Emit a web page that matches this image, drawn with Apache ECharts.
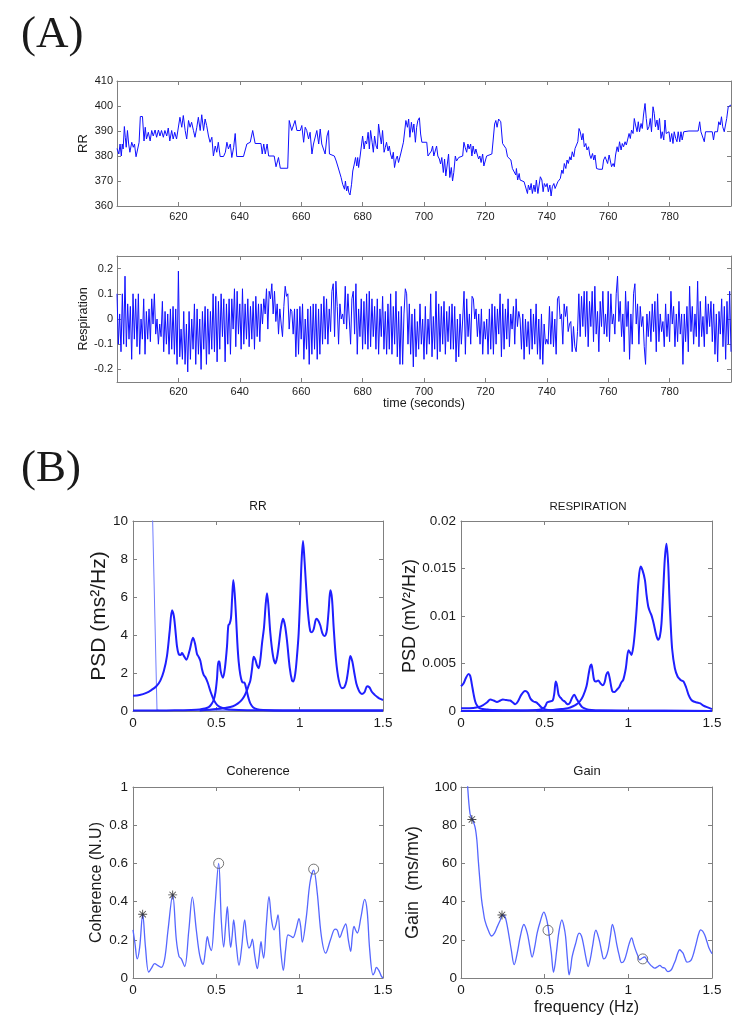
<!DOCTYPE html>
<html><head><meta charset="utf-8">
<script src="https://cdn.jsdelivr.net/npm/echarts@6/dist/echarts.min.js"></script>
<style>html,body{margin:0;padding:0;background:#fff}#c{width:750px;height:1033px}</style>
</head><body><div id="c"></div>
<script>
// ---------------- DATA ----------------
// (A) RR interval series: [time s, RR ms]
const rrSamples = [[600.0,383],[600.2,383.5],[600.6,380.8],[601.0,384.8],[601.4,380],[601.7,384.8],[602.0,382.8],[602.4,391.8],[602.7,387.5],[603.0,383.5],[603.4,390.2],[603.8,384.8],[604.2,381.5],[604.8,385.5],[605.3,383.5],[605.7,384.8],[606.2,379.7],[606.6,382],[607.2,385.5],[607.6,395.8],[608.3,395.8],[608.8,386],[609.2,391.5],[609.6,386.8],[610.2,389.5],[610.8,386],[611.3,390.2],[611.8,388],[612.4,390.4],[612.9,387.5],[613.5,390.4],[614.0,388],[614.5,390.2],[615.1,387.5],[615.6,390.2],[616.2,388],[616.7,391.2],[617.2,386],[617.8,390.2],[618.3,386.8],[618.8,389.5],[619.4,386.8],[620.0,386],[620.5,395.5],[621.1,391.5],[621.6,396.2],[622.2,390.2],[622.7,386.8],[623.3,394.2],[623.8,391.5],[624.3,393.5],[624.9,390.2],[625.4,387.5],[626.0,391.5],[626.5,395.5],[627.1,390.2],[627.6,396.5],[628.2,390.2],[628.7,394.8],[629.2,392.2],[629.8,388],[630.3,385.5],[630.9,387.5],[631.4,380],[632.0,384],[632.5,381.5],[633.0,385.5],[633.6,379.8],[634.7,379.8],[635.3,381.5],[635.8,385.5],[636.3,382.8],[636.9,384.8],[637.4,379.4],[638.0,383.5],[638.5,389],[639.0,379.8],[641.2,379.8],[642.3,384.8],[643.4,385.5],[644.2,390.2],[645.0,385],[646.9,385],[647.3,380.8],[647.8,384.8],[648.3,380.8],[648.9,384.8],[649.4,380],[651.2,380],[651.8,375.7],[652.6,379.4],[653.2,375.1],[655.6,375.1],[656.1,394.2],[656.9,390.2],[657.5,390.2],[658.0,394.2],[658.6,390.2],[659.7,390.2],[660.2,392.2],[660.8,385.5],[661.3,391.5],[661.8,390.2],[662.4,386.8],[662.9,389.5],[663.5,380.8],[664.0,384.8],[664.6,384.8],[665.1,390.2],[665.7,384.8],[666.2,390.8],[666.7,384.8],[667.3,384.8],[667.8,380.8],[668.4,388],[668.9,390.2],[669.2,380.8],
[669.7,380],[670.8,380],[671.4,378],[671.9,376],[672.5,375.7],[673.0,371.4],[673.5,368.7],[674.1,366.7],[674.4,370],[674.8,366],[675.2,368],[675.5,365.4],[675.9,364.4],[676.4,368.7],[676.8,374],[677.3,376.8],[677.7,379.4],[678.1,376],[678.4,379.4],[678.7,375.4],[679.2,380],[679.6,380.8],[680.0,388],[680.5,382.8],[680.9,386],[681.3,384.8],[681.8,389.5],[682.2,382.8],[682.6,390.2],[683.1,385.5],[683.5,381.5],[683.9,388],[684.4,384],[684.8,382.8],[685.2,392.8],[685.7,388],[686.1,384.8],[686.5,390.2],[687.0,381.5],[687.4,383.5],[687.8,385.5],[688.3,382],[688.7,384],[689.1,380.8],[689.6,378.8],[690.0,381.5],[690.4,375.4],[690.9,378.8],[691.3,380],[691.7,377.4],[692.4,380.8],[692.8,380.8],[693.3,385.5],[693.7,384.8],[694.1,394.2],[694.6,391.5],[695.0,394.8],[695.4,387.5],[695.9,393.5],[696.3,389.5],[696.7,392.8],[697.2,385.5],[697.6,391.5],[698.0,394.2],[698.5,395.3],[698.9,388.8],[699.3,385.5],[700.9,385.5],[701.3,380],[701.9,380],[702.4,382],[702.8,384],[703.2,380],[703.7,380.8],[704.1,384],[704.5,380],[705.0,378.8],[705.4,376.8],[705.8,379.4],[706.3,373.4],[706.7,378.8],[707.1,372],[707.6,376.8],[708.0,380.8],[708.4,371.4],[708.9,375.4],[709.3,370],[709.7,373.4],[710.2,380],[710.6,378],[711.3,379.4],[711.9,379.7],[712.6,380],[713.0,385.5],[713.4,383.5],[713.9,381.5],[714.3,384.8],[714.7,382.8],[715.2,384.8],[715.6,380],[716.0,384],[716.5,380.8],[716.9,382.8],[717.3,380.8],[717.8,378.8],[718.2,380],[718.6,377.4],[719.1,380.8],[719.5,376],[719.9,375.4],[720.4,380],[722.1,380.8],[722.5,386],[723.0,392.8],[723.4,394.2],[723.8,391.5],[724.3,394.8],
[725.0,393.7],[725.4,394.4],[725.6,385],[726.1,384.4],[726.7,383],[727.2,379.7],[727.8,379.7],[728.3,378.4],[728.8,375],[729.4,374.4],[729.9,372.4],[730.1,375],[730.5,370.4],[731.0,373],[731.3,370.4],[731.9,369.7],[732.6,369.7],[733.2,369],[733.7,365],[734.0,368.4],[734.5,366.4],[734.9,369],[735.3,365],[735.8,368.4],[736.2,365.7],[736.6,370.4],[737.1,365],[737.5,368.4],[737.9,371.7],[738.4,370.4],[738.8,365.7],[739.2,369],[739.7,367.7],[740.1,369],[740.5,365.7],[741.0,368.4],[741.4,364],[741.8,367.7],[742.3,369],[742.7,367],[743.1,366.4],[743.6,369.7],[744.0,370.4],[744.4,371],[744.9,374.4],[745.3,373],[745.7,377],[746.2,375],[746.6,378.4],[747.0,377],[747.5,379.7],[747.9,378.4],[748.3,381.7],[748.8,379.7],[749.2,383],[749.6,382.4],[750.1,385.7],[750.5,391],[750.9,389.7],[751.4,386.4],[751.8,389],[752.2,383.7],[752.7,385],[753.1,382.4],[753.6,383.7],[754.0,380.4],[754.4,379],[754.9,381],[755.3,378.4],[755.7,380.4],[756.2,375],[757.0,374.7],[758.1,374.7],[758.5,378.4],[759.0,379.7],[759.4,379],[759.8,377],[760.3,380.4],[760.7,379.7],[761.1,375.7],[761.6,377],[762.0,375.7],[762.4,380.4],[762.9,383.7],[763.3,381.7],[763.7,385.7],[764.2,382.4],[764.6,385],[765.0,383.7],[765.5,385.7],[765.9,384.4],[766.3,386.4],[766.8,389],[767.2,387],[767.6,390.4],[768.1,389],[768.5,395],[768.9,392.4],[769.4,389.7],[769.8,393.7],[770.2,389.7],[770.7,393],[771.1,391],[771.5,396.4],[772.0,401],[772.4,395],[772.8,390.4],[773.3,391.7],[773.7,395],[774.1,389.7],[774.6,399.7],[775.0,397],[775.4,391.7],[775.9,394.4],[776.3,390.4],[776.7,395],[777.2,387],[777.6,389.7],[778.1,386.4],[778.5,394.4],[778.9,389],[779.4,388.4],[779.8,389.7],[780.2,385.7],[780.7,389],[781.1,385],[781.5,389.7],[782.0,387],[782.4,385.7],[782.8,389.7],[783.3,385.7],[783.7,389.7],[784.1,386.4],[784.6,389.7],[785.2,389.7],[786.3,390],[789.3,390],[789.8,393.7],[790.2,389.7],[790.8,389.7],[791.3,385.7],[791.7,389.7],[793.9,389.7],[794.3,386.4],[794.7,389.7],[795.6,389.7],[796.0,393.7],[796.5,392.4],[796.9,395.7],[797.3,391.7],[797.8,389.7],[798.2,390.4],[798.6,395],[799.1,399.7],[799.3,399.7],[800,400.4]];

// (A) Respiration, uniformly sampled from respStart to respEnd (alternating peaks / troughs)
const respStart = 600, respEnd = 800;
const respValue = [0.1,-0.1,0.02,-0.13,0.1,-0.1,0.17,-0.11,
0.06,-0.08,0.05,-0.16,0.1,-0.08,0.08,-0.11,
0.1,-0.14,0,-0.08,0.08,-0.14,0.03,-0.08,0.04,-0.09,
0.08,-0.02,0.1,-0.06,0,-0.1,-0.02,-0.07,0.07,-0.13,
0.03,-0.1,0.02,-0.14,0.04,-0.12,0.05,-0.14,0.04,-0.18,
0.19,-0.15,-0.04,-0.16,0.03,-0.18,-0.02,-0.21,0.03,-0.16,
0,-0.12,0.06,-0.18,0.04,-0.14,0,-0.2,0.03,-0.12,
0.05,-0.18,0.04,-0.14,0.03,-0.12,0.1,-0.13,0.09,-0.17,
0.07,-0.12,0.1,-0.07,0.08,-0.17,0.06,-0.1,0.08,-0.14,
0.08,-0.04,0.12,-0.11,0.11,-0.06,0.06,-0.12,0.12,-0.1,
0.06,-0.08,0.08,-0.11,0.05,-0.08,0.07,-0.12,0.09,-0.07,
0.06,-0.09,0.06,-0.02,0.08,0.02,0.12,-0.04,0.11,0.08,
0.14,0.02,0.11,-0.01,0.06,-0.06,0.04,-0.02,-0.07,0.05,
0.13,0.09,0.1,-0.04,0.04,0.03,-0.06,0.04,-0.15,0.04,
-0.14,0.05,-0.08,0.06,-0.16,0,-0.12,0.04,-0.18,0.05,
-0.14,0.06,-0.12,0.06,-0.16,0.04,-0.14,0.06,-0.1,0.09,
-0.08,0.08,-0.1,0.04,-0.05,0.11,0.14,-0.07,0.15,0.05,-0.1,
0.06,0,0.02,-0.02,0.13,-0.04,0.1,0,-0.1,0.08,
0.11,-0.06,0.14,-0.14,0.04,-0.07,0.08,-0.12,0.07,-0.1,
0.1,-0.12,0.11,-0.11,0.08,-0.07,0.05,-0.12,0.08,-0.14,
0.04,-0.07,0.09,-0.12,0.03,-0.14,0.06,-0.12,0.1,-0.14,
0.05,-0.1,0.11,-0.15,0.03,-0.18,0.05,-0.18,0.02,0.12,
0.1,-0.1,0.06,-0.14,0.02,-0.19,0.04,-0.15,-0.01,-0.12,
0.06,-0.1,0,-0.16,0.05,-0.14,0,-0.1,0.1,-0.15,
0.01,-0.12,0.11,-0.16,0.06,-0.13,0.05,-0.1,0.07,-0.14,
0.03,-0.09,0.05,-0.12,0.06,-0.12,0.05,-0.17,0,-0.15,
0.02,-0.1,0,0.11,-0.14,0.08,-0.07,0.02,-0.1,0.09,
0.08,0,0.04,-0.07,0.02,-0.1,0.04,-0.14,-0.01,-0.08,
0,-0.14,0.04,-0.12,0.06,-0.14,0.05,-0.1,0.04,-0.06,
0.1,-0.15,0.06,-0.12,0.04,-0.08,0.08,-0.11,0.02,-0.04,
0.05,-0.1,0.08,-0.03,0.03,0,-0.12,0.02,-0.16,0,
-0.11,-0.01,-0.14,0.04,-0.12,0.02,-0.1,0.06,-0.14,0,
-0.16,0.02,-0.18,-0.02,-0.1,-0.08,-0.1,0.05,-0.1,0.03,
-0.11,0,-0.14,0.08,0.09,0,0.02,-0.1,0.06,0.01,
0.05,-0.05,-0.02,
-0.01,-0.13,-0.03,-0.11,-0.13,-0.05,0.1,-0.07,0.09,-0.03,
0.11,-0.07,0.11,-0.11,0.07,-0.03,0.11,-0.09,0.13,-0.06,
0.03,-0.13,0.07,-0.03,0.11,-0.06,0.02,-0.07,0.11,-0.09,
0.1,-0.02,0.02,-0.06,0.1,0.17,-0.01,0.07,-0.07,0.02,
-0.13,0.11,-0.03,0.07,-0.16,0.02,-0.1,0.1,0.14,-0.02,
0.06,-0.1,0.05,-0.03,0.01,-0.11,-0.18,0.02,-0.07,0.03,
-0.09,0.06,-0.05,0.07,-0.13,0.1,-0.09,0.02,-0.05,-0.01,
-0.11,0.06,-0.07,0.02,-0.09,0.11,-0.02,0.05,-0.11,0.02,
-0.09,0.07,-0.06,0.02,-0.18,0.02,-0.09,0.05,-0.13,0.13,
-0.05,0.05,-0.1,0.02,-0.07,0.15,-0.11,0.07,-0.07,0.01,
-0.11,0.09,-0.06,0.06,-0.03,0.07,-0.09,0.06,-0.14,0.02,
-0.17,0.03,-0.06,0.08,-0.11,0.05,-0.16,0.07,-0.1,0.11,-0.13];

// (A) axis ticks
const rrTicks = [360, 370, 380, 390, 400, 410];
const respTicks = [-0.2, -0.1, 0, 0.1, 0.2];

// (B) RR PSD components: [frequency Hz, PSD ms^2/Hz]
const rrPsdVlf = [[0.108,12.5],[0.118,10],[0.144,0.05],[0.16,0.03],[0.5,0.02],[1.5,0.01]];
const rrPsdLf = [[0,0.8],[0.04,0.84],[0.08,0.95],[0.11,1.1],[0.14,1.3],[0.164,1.6],[0.185,2.1],[0.204,2.9],[0.22,4.2],[0.234,5.3],[0.245,5.0],[0.254,4.3],[0.264,3.4],[0.274,3.0],[0.285,2.95],[0.294,3.05],[0.305,2.9],[0.32,2.7],[0.34,3.2],[0.36,3.85],[0.372,3.55],[0.384,3.0],[0.394,2.85],[0.404,2.65],[0.414,2.2],[0.424,1.9],[0.436,1.75],[0.448,1.5],[0.466,1.0],[0.484,0.6],[0.504,0.32],[0.524,0.2],[0.55,0.12],[0.6,0.06],[0.7,0.04],[0.9,0.03],[1.2,0.02],[1.5,0.02]];
const rrPsdMid = [[0,0.02],[0.2,0.03],[0.3,0.04],[0.35,0.05],[0.4,0.08],[0.43,0.13],[0.454,0.2],[0.47,0.35],[0.484,0.58],[0.495,1.0],[0.504,1.7],[0.512,2.6],[0.518,2.6],[0.526,2.1],[0.54,1.75],[0.552,2.3],[0.564,3.4],[0.572,4.5],[0.58,4.6],[0.588,4.9],[0.595,6.0],[0.602,6.9],[0.61,6.2],[0.618,5.0],[0.626,3.6],[0.634,2.6],[0.644,1.9],[0.654,1.55],[0.662,1.5],[0.668,1.5],[0.676,1.3],[0.684,1.0],[0.694,0.65],[0.704,0.4],[0.72,0.2],[0.744,0.1],[0.78,0.05],[0.85,0.03],[1.0,0.02],[1.5,0.02]];
const rrPsdHf = [[0.4,0.02],[0.5,0.1],[0.55,0.16],[0.6,0.25],[0.63,0.4],[0.654,0.6],[0.67,0.82],[0.684,1.1],[0.694,1.35],[0.704,1.6],[0.714,2.2],[0.724,2.85],[0.734,2.7],[0.744,2.4],[0.754,2.25],[0.764,2.7],[0.774,3.55],[0.786,4.4],[0.796,5.6],[0.804,6.2],[0.812,5.6],[0.824,4.1],[0.84,2.9],[0.854,2.5],[0.864,2.8],[0.874,3.4],[0.888,4.4],[0.9,4.85],[0.912,4.5],[0.924,3.7],[0.94,2.3],[0.954,1.6],[0.962,1.55],[0.974,2.0],[0.984,2.9],[0.994,4.1],[1.004,6.2],[1.012,8.0],[1.02,8.95],[1.03,7.8],[1.044,5.8],[1.054,4.8],[1.064,4.2],[1.074,4.15],[1.084,4.3],[1.1,4.85],[1.112,4.75],[1.124,4.5],[1.136,4.1],[1.148,3.95],[1.156,4.0],[1.164,4.3],[1.174,5.3],[1.184,6.35],[1.194,5.9],[1.204,4.4],[1.218,2.7],[1.234,1.65],[1.254,1.2],[1.268,1.25],[1.28,1.55],[1.292,2.2],[1.304,2.9],[1.316,2.6],[1.328,2.0],[1.34,1.45],[1.354,1.1],[1.364,0.95],[1.374,0.9],[1.39,1.0],[1.404,1.3],[1.418,1.25],[1.434,1.0],[1.45,0.85],[1.464,0.75],[1.48,0.65],[1.5,0.58]];

// (B) Respiration PSD components: [frequency Hz, PSD mV^2/Hz]
const respPsdVlf = [[0,0.0026],[0.015,0.0029],[0.03,0.0035],[0.045,0.0039],[0.055,0.0037],[0.065,0.0028],[0.075,0.0018],[0.085,0.001],[0.095,0.0006],[0.11,0.0003],[0.13,0.0002],[0.16,0.00015],[0.2,0.0001],[0.3,0.00008],[0.5,0.00005],[0.7,0.00003],[1.0,0.00002],[1.5,0.00001]];
const respPsdLf = [[0,0.0003],[0.05,0.0003],[0.1,0.0004],[0.13,0.0006],[0.155,0.0009],[0.175,0.0012],[0.195,0.0011],[0.215,0.00095],[0.235,0.0011],[0.25,0.0012],[0.27,0.00115],[0.294,0.0011],[0.31,0.0009],[0.324,0.0007],[0.34,0.001],[0.36,0.0017],[0.383,0.0021],[0.4,0.0019],[0.415,0.0013],[0.433,0.001],[0.45,0.0009],[0.463,0.0007],[0.48,0.0004],[0.5,0.0002],[0.52,0.0001],[0.55,0.00005],[0.6,0.00003],[0.8,0.00002],[1.0,0.00001],[1.5,0.00001]];
const respPsdMid = [[0,0.00001],[0.3,0.00002],[0.4,0.00005],[0.45,0.0001],[0.48,0.0002],[0.5,0.0004],[0.515,0.0009],[0.53,0.001],[0.548,0.0011],[0.558,0.0019],[0.566,0.0031],[0.574,0.0027],[0.582,0.0018],[0.59,0.0015],[0.6,0.0013],[0.61,0.0011],[0.62,0.001],[0.63,0.0008],[0.64,0.0007],[0.652,0.0009],[0.664,0.0014],[0.677,0.0017],[0.69,0.0013],[0.707,0.0008],[0.725,0.0004],[0.75,0.0002],[0.78,0.0001],[0.83,0.00004],[1.0,0.00002],[1.5,0.00001]];
const respPsdHf = [[0.45,0.00002],[0.5,0.00005],[0.55,0.0001],[0.6,0.0002],[0.64,0.0003],[0.67,0.0005],[0.69,0.0007],[0.71,0.001],[0.73,0.0016],[0.75,0.0026],[0.762,0.0038],[0.772,0.0047],[0.779,0.0049],[0.787,0.0042],[0.795,0.0033],[0.805,0.0031],[0.82,0.0032],[0.834,0.0029],[0.846,0.0027],[0.858,0.003],[0.868,0.0038],[0.878,0.0041],[0.888,0.0035],[0.904,0.0021],[0.918,0.002],[0.93,0.0022],[0.945,0.0025],[0.958,0.003],[0.97,0.0033],[0.985,0.0045],[1.001,0.0064],[1.012,0.0061],[1.019,0.0059],[1.03,0.0068],[1.04,0.0085],[1.05,0.0108],[1.06,0.0135],[1.073,0.0152],[1.085,0.0148],[1.099,0.0138],[1.109,0.0122],[1.119,0.011],[1.128,0.0105],[1.138,0.0101],[1.146,0.0096],[1.154,0.009],[1.165,0.0081],[1.178,0.0075],[1.188,0.0078],[1.198,0.0092],[1.208,0.0125],[1.218,0.016],[1.228,0.0176],[1.238,0.0155],[1.245,0.0122],[1.252,0.0095],[1.262,0.0065],[1.278,0.0045],[1.295,0.0036],[1.31,0.0033],[1.32,0.0032],[1.33,0.0031],[1.345,0.0025],[1.36,0.0017],[1.375,0.0012],[1.39,0.001],[1.41,0.0009],[1.43,0.0008],[1.446,0.0006],[1.47,0.0004],[1.5,0.0002]];

// (B) Coherence [frequency, N.U]
const coherence = [[0,0.252],[0.012,0.18],[0.025,0.1],[0.04,0.16],[0.058,0.334],[0.075,0.16],[0.094,0.031],[0.11,0.05],[0.13,0.075],[0.15,0.065],[0.17,0.056],[0.19,0.1],[0.21,0.25],[0.238,0.435],[0.26,0.2],[0.276,0.113],[0.29,0.1],[0.31,0.06],[0.335,0.25],[0.356,0.423],[0.38,0.25],[0.4,0.12],[0.42,0.071],[0.434,0.14],[0.446,0.217],[0.458,0.17],[0.47,0.144],[0.49,0.35],[0.514,0.6],[0.53,0.3],[0.544,0.162],[0.556,0.28],[0.566,0.374],[0.576,0.25],[0.586,0.16],[0.595,0.22],[0.604,0.304],[0.62,0.17],[0.636,0.066],[0.652,0.16],[0.67,0.304],[0.684,0.2],[0.696,0.157],[0.706,0.17],[0.716,0.203],[0.73,0.12],[0.746,0.049],[0.758,0.12],[0.768,0.19],[0.776,0.14],[0.784,0.104],[0.8,0.28],[0.816,0.426],[0.832,0.3],[0.846,0.252],[0.858,0.28],[0.87,0.33],[0.886,0.15],[0.902,0.04],[0.916,0.15],[0.93,0.226],[0.945,0.22],[0.96,0.212],[0.98,0.26],[0.996,0.311],[1.006,0.27],[1.016,0.188],[1.04,0.32],[1.062,0.5],[1.084,0.565],[1.105,0.45],[1.13,0.22],[1.156,0.13],[1.185,0.2],[1.212,0.256],[1.226,0.25],[1.24,0.212],[1.258,0.25],[1.276,0.283],[1.292,0.2],[1.306,0.139],[1.316,0.22],[1.326,0.27],[1.336,0.25],[1.346,0.235],[1.368,0.32],[1.39,0.412],[1.405,0.35],[1.42,0.15],[1.44,0.017],[1.45,0.03],[1.46,0.056],[1.475,0.04],[1.49,0.01],[1.5,0]];
const cohStars = [[0.058,0.334],[0.238,0.435]];
const cohCircles = [[0.514,0.6],[1.084,0.57]];

// (B) Gain [frequency, ms/mv]
const gain = [[0.03,118],[0.04,100],[0.054,86],[0.068,83],[0.084,79],[0.095,72],[0.103,62],[0.113,51],[0.123,41],[0.133,35],[0.143,30],[0.163,25],[0.183,22],[0.2,23.5],[0.215,26.5],[0.233,30],[0.249,33],[0.26,32.5],[0.27,30],[0.285,23],[0.3,15],[0.318,7],[0.336,13],[0.355,22],[0.376,28],[0.396,23.5],[0.41,17],[0.425,11],[0.44,16],[0.455,23.5],[0.475,30],[0.495,34.5],[0.508,32],[0.52,27],[0.53,20],[0.54,13],[0.553,3],[0.562,7],[0.57,13],[0.585,24],[0.603,30.4],[0.615,27],[0.625,21.7],[0.636,10],[0.646,1.7],[0.655,5],[0.664,11],[0.685,18],[0.706,23.5],[0.72,22],[0.734,16.5],[0.748,10],[0.76,6],[0.773,10],[0.786,16.5],[0.806,25],[0.826,20],[0.84,14],[0.853,10],[0.866,11],[0.88,15],[0.893,22],[0.905,28],[0.918,24],[0.93,18],[0.945,12],[0.96,8],[0.975,9],[0.99,13],[1.005,18],[1.02,21],[1.031,18],[1.042,15],[1.055,12],[1.068,9.5],[1.083,10.5],[1.098,11],[1.113,9],[1.128,7.3],[1.143,6],[1.158,5.2],[1.173,5.8],[1.188,6.6],[1.203,5.5],[1.217,5.2],[1.237,3.3],[1.257,4.3],[1.27,6.8],[1.283,9.6],[1.295,13],[1.307,14.8],[1.317,14],[1.327,13],[1.338,10.5],[1.35,8.3],[1.363,8.5],[1.377,9.6],[1.392,13.5],[1.406,18.3],[1.42,23],[1.432,25.2],[1.444,24.5],[1.456,22.6],[1.47,19],[1.482,15.7],[1.5,12.7]];
const gainStars = [[0.065,83],[0.245,33]];
const gainCircles = [[0.52,25],[1.086,10]];

// ---------------- CHART ----------------
const AX = '#808080', TXT = '#1a1a1a';
const SANS = '"Liberation Sans", Arial, Helvetica, sans-serif';
const SERIF = '"Liberation Serif", "Times New Roman", serif';
const STAR = 'path://M-1,-10L1,-10L1,10L-1,10Z M-10,-1L10,-1L10,1L-10,1Z M-6.36,-7.78L7.78,6.36L6.36,7.78L-7.78,-6.36Z M6.36,-7.78L7.78,-6.36L-6.36,7.78L-7.78,6.36Z';

const respSamples = respValue.map((v, i) => [respStart + i * (respEnd - respStart) / (respValue.length - 1), v]);

function axisPair(kind, g, cfg) {
  const mk = (main) => {
    const a = {
      type: 'value', gridIndex: g, min: cfg.min, max: cfg.max,
      position: kind === 'x' ? (main ? 'bottom' : 'top') : (main ? 'left' : 'right'),
      splitLine: { show: false },
      axisLine: { show: true, onZero: false, lineStyle: { color: AX, width: 1 } },
      axisTick: { show: true, inside: true, length: 4, lineStyle: { color: AX, width: 1 } },
      axisLabel: { show: main, fontSize: cfg.fs, color: TXT, fontFamily: SANS, margin: cfg.margin,
                   showMinLabel: cfg.hideEnds ? false : true, showMaxLabel: cfg.hideEnds ? false : true }
    };
    if (cfg.interval !== undefined) a.interval = cfg.interval;
    if (cfg.ticks) { a.axisTick.customValues = cfg.ticks; a.axisLabel.customValues = cfg.ticks; }
    if (main && cfg.name) {
      a.name = cfg.name; a.nameLocation = 'middle'; a.nameGap = cfg.nameGap;
      a.nameMoveOverlap = false;
      a.nameTextStyle = { fontSize: cfg.nameFs, color: TXT, fontFamily: SANS };
    }
    return a;
  };
  return [mk(true), mk(false)];
}

const xAxes = [].concat(
  axisPair('x', 0, { min: 600, max: 800, interval: 20, hideEnds: true, fs: 11, margin: 5 }),
  axisPair('x', 1, { min: 600, max: 800, interval: 20, hideEnds: true, fs: 11, margin: 4, name: 'time (seconds)', nameGap: 15, nameFs: 12.5 }),
  axisPair('x', 2, { min: 0, max: 1.5, interval: 0.5, fs: 13.5, margin: 5 }),
  axisPair('x', 3, { min: 0, max: 1.5, interval: 0.5, fs: 13.5, margin: 5 }),
  axisPair('x', 4, { min: 0, max: 1.5, interval: 0.5, fs: 13.5, margin: 5 }),
  axisPair('x', 5, { min: 0, max: 1.5, interval: 0.5, fs: 13.5, margin: 5, name: 'frequency (Hz)', nameGap: 22, nameFs: 16 })
);
const yAxes = [].concat(
  axisPair('y', 0, { min: 360, max: 410, interval: 10, fs: 11, margin: 4, name: 'RR', nameGap: 27, nameFs: 13 }),
  axisPair('y', 1, { min: -0.25, max: 0.25, ticks: respTicks, fs: 11, margin: 4, name: 'Respiration', nameGap: 27, nameFs: 12.5 }),
  axisPair('y', 2, { min: 0, max: 10, interval: 2, fs: 13.5, margin: 5, name: 'PSD (ms²/Hz)', nameGap: 23, nameFs: 21 }),
  axisPair('y', 3, { min: 0, max: 0.02, interval: 0.005, fs: 13.5, margin: 5, name: 'PSD (mV²/Hz)', nameGap: 42, nameFs: 18 }),
  axisPair('y', 4, { min: 0, max: 1, interval: 0.2, fs: 13.5, margin: 5, name: 'Coherence (N.U)', nameGap: 28, nameFs: 16 }),
  axisPair('y', 5, { min: 0, max: 100, interval: 20, fs: 13.5, margin: 4, name: 'Gain  (ms/mv)', nameGap: 39, nameFs: 18 })
);

const gridBase = { containLabel: false, outerBoundsMode: 'none', show: false };
const grids = [
  Object.assign({ left: 117, top: 81, width: 614, height: 125 }, gridBase),
  Object.assign({ left: 117, top: 256, width: 614, height: 126 }, gridBase),
  Object.assign({ left: 133, top: 521, width: 250, height: 190 }, gridBase),
  Object.assign({ left: 461, top: 521, width: 251, height: 190 }, gridBase),
  Object.assign({ left: 133, top: 787, width: 250, height: 191 }, gridBase),
  Object.assign({ left: 461, top: 787, width: 251, height: 191 }, gridBase)
];

function lineS(g, data, color, width, smooth) {
  return { type: 'line', xAxisIndex: 2 * g, yAxisIndex: 2 * g, data: data, showSymbol: false, symbol: 'none',
           smooth: smooth || false, clip: true, silent: true, animation: false,
           lineStyle: { color: color, width: width } };
}
function markS(g, data, symbol, size, style) {
  return { type: 'scatter', xAxisIndex: 2 * g, yAxisIndex: 2 * g, data: data, symbol: symbol, symbolSize: size,
           silent: true, animation: false, itemStyle: style, z: 5 };
}
const PSD = '#1f1fff', THIN = '#5566ff';
const circleStyle = { color: 'rgba(0,0,0,0)', borderColor: '#555', borderWidth: 1 };
const starStyle = { color: '#222' };

function ttl(text, x, y, fs, family, align) {
  return { text: text, left: x, top: y, padding: 0, textAlign: align || 'center',
           textStyle: { fontSize: fs, fontWeight: 'normal', color: TXT, fontFamily: family || SANS } };
}

const option = {
  animation: false,
  backgroundColor: '#ffffff',
  title: [
    ttl('(A)', 21, 13, 45, SERIF, 'left'),
    ttl('(B)', 21, 447, 45, SERIF, 'left'),
    ttl('RR', 258, 501, 12),
    ttl('RESPIRATION', 588, 501, 11.5),
    ttl('Coherence', 258, 765, 13),
    ttl('Gain', 587, 765, 13)
  ],
  grid: grids,
  xAxis: xAxes,
  yAxis: yAxes,
  series: [
    lineS(0, rrSamples, '#1010ff', 1),
    lineS(1, respSamples, '#1010ff', 1),
    lineS(2, rrPsdVlf, '#6f7cff', 1),
    lineS(2, rrPsdLf, PSD, 2, 0.3),
    lineS(2, rrPsdMid, PSD, 2, 0.3),
    lineS(2, rrPsdHf, PSD, 2, 0.3),
    lineS(3, respPsdVlf, PSD, 2, 0.3),
    lineS(3, respPsdLf, PSD, 2, 0.3),
    lineS(3, respPsdMid, PSD, 2, 0.3),
    lineS(3, respPsdHf, PSD, 2, 0.3),
    lineS(4, coherence, THIN, 1.3, 0.35),
    markS(4, cohStars, STAR, 9, starStyle),
    markS(4, cohCircles, 'circle', 10, circleStyle),
    lineS(5, gain, THIN, 1.3, 0.35),
    markS(5, gainStars, STAR, 9, starStyle),
    markS(5, gainCircles, 'circle', 10, circleStyle)
  ]
};

const chart = echarts.init(document.getElementById('c'), null, { renderer: 'canvas' });
chart.setOption(option);
</script>
</body></html>
